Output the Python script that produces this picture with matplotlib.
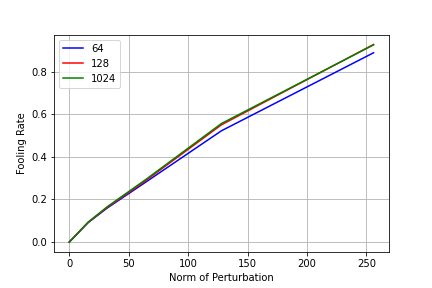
import matplotlib
matplotlib.use("Agg")
import matplotlib.pyplot as plt

norms = [0, 16, 32, 64, 128, 256]
rate_64 = [0.0, 0.092, 0.160, 0.280, 0.522, 0.888]
rate_128 = [0.0, 0.093, 0.163, 0.287, 0.550, 0.927]
rate_1024 = [0.0, 0.094, 0.166, 0.292, 0.556, 0.925]

fig, ax = plt.subplots(figsize=(6, 4), dpi=72)
fig.subplots_adjust(bottom=0.125)
ax.plot(norms, rate_64, color="b", label="64")
ax.plot(norms, rate_128, color="r", label="128")
ax.plot(norms, rate_1024, color="g", label="1024")
ax.set_xlabel("Norm of Perturbation")
ax.set_ylabel("Fooling Rate")
ax.grid(True)
ax.legend(loc="upper left")
fig.savefig("out.png", dpi=72)
